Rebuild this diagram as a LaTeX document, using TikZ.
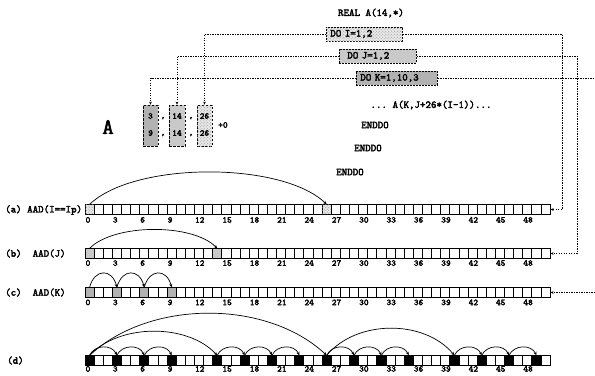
\documentclass[tikz,border=0pt]{standalone}
\usepackage{fontspec}
\setmonofont{Latin Modern Mono}[AutoFakeBold=3]
\usetikzlibrary{arrows.meta,patterns,calc}
\begin{document}
\begin{tikzpicture}[x=1bp,y=-1bp,
  txt/.style={inner sep=0pt, font=\ttfamily\bfseries\fontsize{10.5}{12}\selectfont},
  tick/.style={inner sep=0pt, font=\ttfamily\bfseries\fontsize{9}{10}\selectfont},
  cell/.style={draw=black, line width=0.8bp, minimum width=9.12bp, minimum height=9.5bp, inner sep=0pt, fill=white},
  lightp/.style={fill=gray!18, postaction={pattern=crosshatch dots, pattern color=gray!80}},
  midp/.style={fill=gray!42},
  darkp/.style={fill=gray!60},
  blk/.style={fill=black},
  arr/.style={line width=0.7bp, -{Stealth[length=3.5bp,width=3bp]}},
  dot/.style={line width=1bp, dash pattern=on 1.3bp off 1.2bp},
  dotarr/.style={dot, -{Stealth[length=3bp,width=2.6bp]}},
  loopbox/.style={txt, draw, line width=0.7bp, dash pattern=on 2bp off 1bp, minimum height=14bp, inner xsep=4bp, anchor=west, align=left},
  col/.style={draw, line width=0.7bp, dash pattern=on 2.5bp off 1.5bp, minimum width=15bp, minimum height=41bp, inner sep=0pt}
]
\useasboundingbox (0,0) rectangle (595,375);

% program text
\node[txt] (real) at (371,13) {REAL A(14,*)};
\node[loopbox, lightp, text width=68bp] (boxI) at (326,34) {DO I=1,2};
\node[loopbox, midp, text width=69bp] (boxJ) at (339,56) {\hspace*{4bp}DO J=1,2};
\node[loopbox, darkp, text width=73bp] (boxK) at (356,78) {DO K=1,10,3};
\node[txt] (body) at (431,105) {... A(K,J+26*(I-1))...};
\node[txt] (e1) at (375,125) {ENDDO};
\node[txt] (e2) at (368,148) {ENDDO};
\node[txt] (e3) at (350,172) {ENDDO};

% array A columns
\node[inner sep=0pt, font=\ttfamily\bfseries\fontsize{22}{22}\selectfont] (lblA) at (108,127) {A};
\node[col, darkp] (col1) at (150.5,125.5) {};
\node[col, midp, minimum width=16bp] (col2) at (177,125.5) {};
\node[col, lightp] (col3) at (204.5,125.5) {};
\node[tick] (n1a) at (150.5,116) {3};
\node[tick] (n1b) at (150.5,133) {9};
\node[tick] (n2a) at (177,116) {14};
\node[tick] (n2b) at (177,133) {14};
\node[tick] (n3a) at (204.5,116) {26};
\node[tick] (n3b) at (204.5,133) {26};
\node[tick] (c1a) at (163,118) {,};
\node[tick] (c1b) at (163,135) {,};
\node[tick] (c2a) at (191,118) {,};
\node[tick] (c2b) at (191,135) {,};
\node[tick] (plus) at (223,125) {+0};

% row labels
\node[txt, anchor=west] (la) at (5,210) {(a) AAD(I==Ip)};
\node[txt, anchor=west] (lb) at (5,253.5) {(b)\ \ AAD(J)};
\node[txt, anchor=west] (lc) at (5,292.5) {(c)\ \ AAD(K)};
\node[txt, anchor=west] (ld) at (7,360.5) {(d)};

% cell rows
\foreach \r/\yy/\off in {a/209.5/8,b/253.5/7.2,c/292.5/7.5,d/360.5/6}{
  \foreach \i in {0,...,50}{
    \node[cell] (\r\i) at ({85+9.12*(\i+0.5)},\yy) {};
  }
  \foreach \i in {0,3,...,48}{
    \node[tick, anchor=base west] (\r-t\i) at ($(\r\i.south west)+(0.8,\off)$) {\i};
  }
}
\foreach \i in {0,26} \node[cell, lightp] (ah\i) at (a\i) {};
\foreach \i in {0,14} \node[cell, midp] (bh\i) at (b\i) {};
\foreach \i in {0,3,6,9} \node[cell, darkp] (ch\i) at (c\i) {};
\foreach \i in {0,3,6,9,14,17,20,23,26,29,32,35,40,43,46,49} \node[cell, blk] (dh\i) at (d\i) {};

% arcs
\draw[arr] (ah0.north) .. controls +(45,-43) and +(-45,-43) .. (ah26.north);
\draw[arr] (bh0.north) .. controls +(25,-25) and +(-25,-25) .. (bh14.north);
\foreach \s/\t in {0/3,3/6,6/9}
  \draw[arr] (ch\s.north) .. controls +(5,-19) and +(-5,-19) .. (ch\t.north);
\foreach \s/\t in {0/3,3/6,6/9,14/17,17/20,20/23,26/29,29/32,32/35,40/43,43/46,46/49}
  \draw[arr] (dh\s.north) .. controls +(5,-11) and +(-5,-11) .. (dh\t.north);
\draw[arr] (dh0.north) .. controls +(30,-32) and +(-30,-32) .. (dh14.north);
\draw[arr] (dh0.north) .. controls +(60,-56) and +(-60,-56) .. (dh26.north);
\draw[arr] (dh26.north) .. controls +(30,-36) and +(-30,-36) .. (dh40.north);

% dotted connectors
\coordinate (ra) at (562,209.5);
\coordinate (rb) at (577,253.5);
\coordinate (rc) at (595,292.5);
\coordinate (rk) at (595,78);
\draw[dotarr] (boxI.west) -| (col3.north);
\draw[dotarr] (boxJ.west) -| (col2.north);
\draw[dotarr] (boxK.west) -| (col1.north);
\draw[dotarr] (boxI.east) -| (ra) -- (a50.east);
\draw[dotarr] (boxJ.east) -| (rb) -- (b50.east);
\draw[dot] (boxK.east) -- (rk);
\draw[dotarr] (rc) -- (c50.east);
\end{tikzpicture}
\end{document}
